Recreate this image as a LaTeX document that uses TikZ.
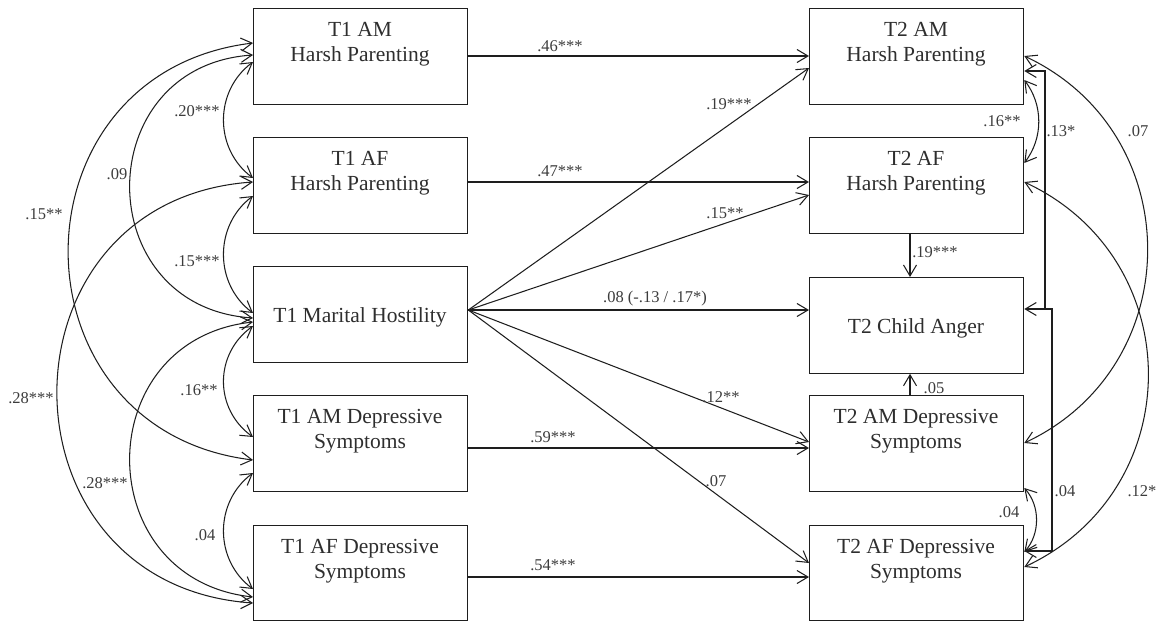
\documentclass[tikz,border=0pt]{standalone}
\usepackage{fontspec}
\setmainfont{Liberation Serif}
\usetikzlibrary{arrows.meta}
\definecolor{ln}{HTML}{1E1E1E}
\definecolor{tx}{HTML}{2E2E2E}
\definecolor{lb}{HTML}{3C3C3C}
\tikzset{
  box/.style={draw=ln, line width=1.3pt, minimum width=214pt, minimum height=95.5pt, inner sep=0pt, anchor=north west},
  btxt/.style={text=tx, font=\fontsize{21.5}{25}\selectfont, anchor=base, inner sep=0pt},
  lab/.style={text=lb, font=\fontsize{16.5}{19}\selectfont, inner sep=0pt},
  arr/.style={draw=ln, line width=1.05pt, -{Straight Barb[length=11pt,width=13pt]}},
  dbl/.style={draw=ln, line width=1.05pt, {Straight Barb[length=11pt,width=13pt]}-{Straight Barb[length=11pt,width=13pt]}},
  plain/.style={draw=ln, line width=1.05pt}
}
\begin{document}
\begin{tikzpicture}[x=1pt,y=-1pt]
\useasboundingbox (0,0) rectangle (1158,621);
% boxes
\node[box] (L1) at (253,8) {};
\node[box] (L2) at (253,137) {};
\node[box] (L3) at (253,266) {};
\node[box] (L4) at (253,395) {};
\node[box] (L5) at (253,524.5) {};
\node[box] (R1) at (809,8) {};
\node[box] (R2) at (809,137) {};
\node[box] (R3) at (809,277) {};
\node[box] (R4) at (809,395) {};
\node[box] (R5) at (809,524.5) {};
% box texts
\node[btxt] (tL1a) at (360,36) {T1 AM};
\node[btxt] (tL1b) at (360,61) {Harsh Parenting};
\node[btxt] (tL2a) at (360,165) {T1 AF};
\node[btxt] (tL2b) at (360,190) {Harsh Parenting};
\node[btxt] (tL3) at (360,322) {T1 Marital Hostility};
\node[btxt] (tL4a) at (360,423) {T1 AM Depressive};
\node[btxt] (tL4b) at (360,448) {Symptoms};
\node[btxt] (tL5a) at (360,553) {T1 AF Depressive};
\node[btxt] (tL5b) at (360,578) {Symptoms};
\node[btxt] (tR1a) at (916,36) {T2 AM};
\node[btxt] (tR1b) at (916,61) {Harsh Parenting};
\node[btxt] (tR2a) at (916,165) {T2 AF};
\node[btxt] (tR2b) at (916,190) {Harsh Parenting};
\node[btxt] (tR3) at (916,333) {T2 Child Anger};
\node[btxt] (tR4a) at (916,423) {T2 AM Depressive};
\node[btxt] (tR4b) at (916,448) {Symptoms};
\node[btxt] (tR5a) at (916,553) {T2 AF Depressive};
\node[btxt] (tR5b) at (916,578) {Symptoms};
% straight paths
\draw[arr] (L1.east |- 0,56) -- (R1.west |- 0,56);
\draw[arr] (L2.east |- 0,182) -- (R2.west |- 0,182);
\draw[arr] (L4.east |- 0,448) -- (R4.west |- 0,448);
\draw[arr] (L5.east |- 0,577) -- (R5.west |- 0,577);
\coordinate (mo) at (L3.east |- 0,310);
\draw[arr] (mo) -- (R1.west |- 0,68);
\draw[arr] (mo) -- (R2.west |- 0,195);
\draw[arr] (mo) -- (R3.west |- 0,310);
\draw[arr] (mo) -- (R4.west |- 0,442);
\draw[arr] (mo) -- (R5.west |- 0,563);
\draw[arr] (R2.south -| 910,0) -- (R3.north -| 910,0);
\draw[arr] (R4.north -| 910,0) -- (R3.south -| 910,0);
% path labels
\node[lab] (p1) at (560,46) {.46***};
\node[lab] (p2) at (560,171) {.47***};
\node[lab] (p3) at (729,104) {.19***};
\node[lab] (p4) at (725,213) {.15**};
\node[lab] (p5) at (655,299) {.08 (-.13 / .17*)};
\node[lab] (p6) at (721,397) {.12**};
\node[lab] (p7) at (553,437) {.59***};
\node[lab] (p8) at (716,481) {.07};
\node[lab] (p9) at (553,565) {.54***};
\node[lab] (p10) at (935,252) {.19***};
\node[lab] (p11) at (934,388) {.05};
% left covariances
\draw[dbl] (L1.west |- 0,62) .. controls +(-39,29) and +(-39,-29) .. (L2.west |- 0,178);
\draw[dbl] (L2.west |- 0,196) .. controls +(-39,29) and +(-39,-29) .. (L3.west |- 0,313);
\draw[dbl] (L3.west |- 0,326) .. controls +(-39,28) and +(-39,-28) .. (L4.west |- 0,437);
\draw[dbl] (L4.west |- 0,473) .. controls +(-39,29) and +(-39,-29) .. (L5.west |- 0,589);
\draw[dbl] (L1.west |- 0,55) .. controls +(-164,11) and +(-164,-11) .. (L3.west |- 0,318);
\draw[dbl] (L1.west |- 0,43) .. controls +(-246,30) and +(-246,-30) .. (L4.west |- 0,460);
\draw[dbl] (L2.west |- 0,182) .. controls +(-261,18) and +(-261,-18) .. (L5.west |- 0,603);
\draw[dbl] (L3.west |- 0,322) .. controls +(-164,18) and +(-164,-18) .. (L5.west |- 0,597);
\node[lab] (c1) at (197,111) {.20***};
\node[lab] (c2) at (117,174) {.09};
\node[lab] (c3) at (44,214) {.15**};
\node[lab] (c4) at (197,261) {.15***};
\node[lab] (c5) at (31,398) {.28***};
\node[lab] (c6) at (199,390) {.16**};
\node[lab] (c7) at (105,483) {.28***};
\node[lab] (c8) at (205,535) {.04};
% right covariances
\draw[dbl] (R1.east |- 0,80) .. controls +(19,25) and +(19,-25) .. (R2.east |- 0,163);
\draw[dbl] (R1.east |- 0,56) .. controls +(164,77) and +(164,-77) .. (R4.east |- 0,443);
\draw[dbl] (R2.east |- 0,182) .. controls +(165,77) and +(165,-77) .. (R5.east |- 0,567);
\draw[dbl] (R4.east |- 0,488) .. controls +(16,18) and +(16,-18) .. (R5.east |- 0,552);
\coordinate (b1) at (1045,309);
\draw[arr] (b1) |- (R1.east |- 0,71);
\coordinate (b2) at (1052,309);
\coordinate (b3) at (1052,551);
\draw[dbl] (R3.east |- 0,309) -- (b2) -- (b3) -- (R5.east |- 0,551);
\node[lab] (c9) at (1002,121) {.16**};
\node[lab] (c10) at (1061,131) {.13*};
\node[lab] (c11) at (1138,131) {.07};
\node[lab] (c12) at (1065,491) {.04};
\node[lab] (c13) at (1142,491) {.12*};
\node[lab] (c14) at (1009,512) {.04};
\end{tikzpicture}
\end{document}
